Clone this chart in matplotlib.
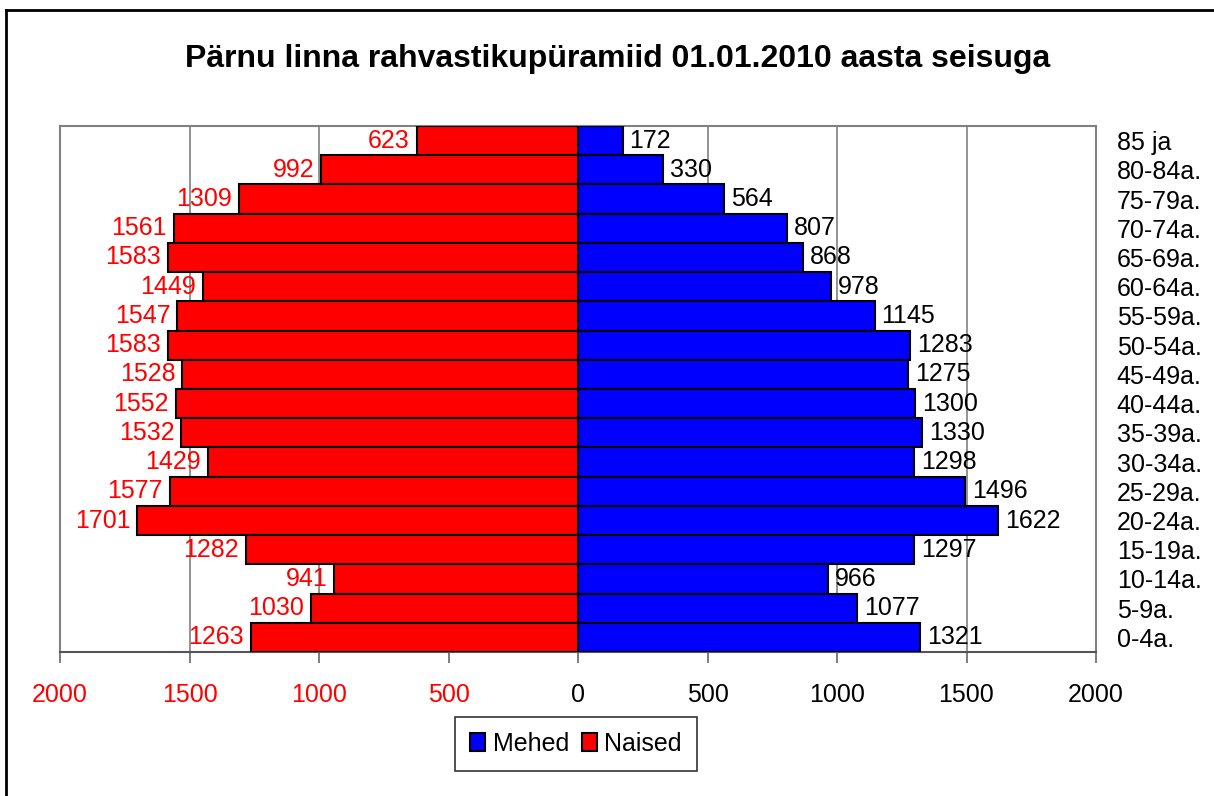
import matplotlib
matplotlib.use('Agg')
import matplotlib.pyplot as plt
from matplotlib.lines import Line2D
import numpy as np

plt.rcParams['font.family'] = ['Liberation Sans', 'DejaVu Sans']

# vanuserühmad ülevalt alla
groups = ['85 ja', '80-84a.', '75-79a.', '70-74a.', '65-69a.', '60-64a.', '55-59a.',
          '50-54a.', '45-49a.', '40-44a.', '35-39a.', '30-34a.', '25-29a.', '20-24a.',
          '15-19a.', '10-14a.', '5-9a.', '0-4a.']
naised = [623, 992, 1309, 1561, 1583, 1449, 1547, 1583, 1528, 1552, 1532, 1429, 1577,
          1701, 1282, 941, 1030, 1263]
mehed = [172, 330, 564, 807, 868, 978, 1145, 1283, 1275, 1300, 1330, 1298, 1496,
         1622, 1297, 966, 1077, 1321]
xticks = [-2000, -1500, -1000, -500, 0, 500, 1000, 1500, 2000]

W, H = 1214, 796
fig = plt.figure(figsize=(W / 100, H / 100), dpi=100)
ax = fig.add_axes([60 / W, 1 - 652 / H, (1096 - 60) / W, (652 - 126) / H])

y = np.arange(len(groups))[::-1]
fs = 18

ax.barh(y, mehed, height=1.0, color='#0000ff', edgecolor='black', linewidth=1.5,
        label='Mehed', zorder=3)
ax.barh(y, [-v for v in naised], height=1.0, color='#ff0000', edgecolor='black',
        linewidth=1.5, label='Naised', zorder=3)

for yi, m, n in zip(y, mehed, naised):
    ax.annotate(str(m), (m, yi), xytext=(5, 0), textcoords='offset points',
                ha='left', va='center', fontsize=fs, color='black', zorder=4)
    ax.annotate(str(n), (-n, yi), xytext=(-5, 0), textcoords='offset points',
                ha='right', va='center', fontsize=fs, color='#ff0000', zorder=4)

ax.set_xlim(-2000, 2000)
ax.set_ylim(-0.5, len(groups) - 0.5)
ax.set_xticks(xticks)
ax.set_xticklabels([str(abs(v)) for v in xticks], fontsize=fs)
for lab, v in zip(ax.get_xticklabels(), xticks):
    lab.set_color('#ff0000' if v < 0 else 'black')
ax.tick_params(axis='x', direction='out', length=8, width=1.2, color='#666666', pad=14)

ax.yaxis.tick_right()
ax.set_yticks(y)
ax.set_yticklabels(groups, fontsize=fs)
ax.tick_params(axis='y', length=0, pad=15)

ax.grid(axis='x', color='#808080', linewidth=1.2, zorder=0)
for s in ['top', 'left', 'right']:
    ax.spines[s].set_color('#808080')
    ax.spines[s].set_linewidth(1.5)
ax.spines['bottom'].set_color('#555555')
ax.spines['bottom'].set_linewidth(1.5)

fig.text(618 / W, 1 - 59 / H, 'Pärnu linna rahvastikupüramiid 01.01.2010 aasta seisuga',
         ha='center', va='center', fontsize=23, fontweight='bold')

handles, labels = ax.get_legend_handles_labels()
leg = fig.legend(handles, labels, loc='center', bbox_to_anchor=(576 / W, 1 - 744 / H),
                 ncol=2, fontsize=fs, frameon=True, fancybox=False, edgecolor='black',
                 handlelength=0.6, handleheight=0.75, handletextpad=0.3, columnspacing=0.5,
                 borderpad=0.6, borderaxespad=0)
leg.get_frame().set_linewidth(1.2)

# raam ümber
fig.add_artist(Line2D([6 / W, 6 / W], [0, 1 - 10 / H], color='black', linewidth=2))
fig.add_artist(Line2D([6 / W, 1], [1 - 10 / H, 1 - 10 / H], color='black', linewidth=2))

fig.savefig('out.png', dpi=100)
